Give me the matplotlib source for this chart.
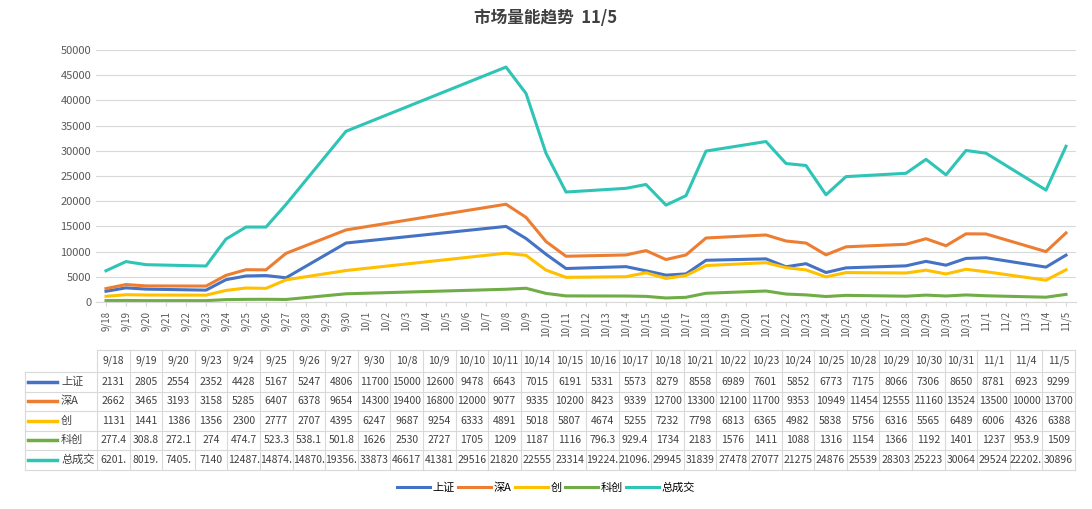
import matplotlib
matplotlib.use("Agg")
import matplotlib.pyplot as plt
import datetime as dt

plt.rcParams['font.family'] = ['Noto Sans CJK SC', 'DejaVu Sans']

dates = ["9/18","9/19","9/20","9/23","9/24","9/25","9/26","9/27","9/30","10/8","10/9","10/10","10/11","10/14",
         "10/15","10/16","10/17","10/18","10/21","10/22","10/23","10/24","10/25","10/28","10/29","10/30","10/31","11/1","11/4","11/5"]
sh = [2131,2805,2554,2352,4428,5167,5247,4806,11700,15000,12600,9478,6643,7015,6191,5331,5573,8279,8558,6989,7601,5852,6773,7175,8066,7306,8650,8781,6923,9299]
sza = [2662,3465,3193,3158,5285,6407,6378,9654,14300,19400,16800,12000,9077,9335,10200,8423,9339,12700,13300,12100,11700,9353,10949,11454,12555,11160,13524,13500,10000,13700]
cy = [1131,1441,1386,1356,2300,2777,2707,4395,6247,9687,9254,6333,4891,5018,5807,4674,5255,7232,7798,6813,6365,4982,5838,5756,6316,5565,6489,6006,4326,6388]
kc = [277.4,308.8,272.1,274,474.7,523.3,538.1,501.8,1626,2530,2727,1705,1209,1187,1116,796.3,929.4,1734,2183,1576,1411,1088,1316,1154,1366,1192,1401,1237,953.9,1509]
total = [6201.5,8019.5,7405.5,7140,12487.5,14874.5,14870.5,19356.5,33873,46617,41381,29516,21820,22555,23314,19224.5,21096.5,29945,31839,27478,27077,21275,24876,25539,28303,25223,30064,29524,22202.5,30896]
table_str = {
 "总成交": ["6201.","8019.","7405.","7140","12487.","14874.","14870.","19356.","33873","46617","41381","29516","21820","22555",
          "23314","19224.","21096.","29945","31839","27478","27077","21275","24876","25539","28303","25223","30064","29524","22202.","30896"],
}
names = ["上证","深A","创","科创","总成交"]
colors = ["#4472C4","#ED7D31","#FFC000","#70AD47","#2EC4B6"]
series = [sh, sza, cy, kc, total]

start = dt.date(2024,9,18)
alldays = [start + dt.timedelta(d) for d in range(49)]
axis_labels = [f"{d.month}/{d.day}" for d in alldays]
def pos(s):
    m, d = map(int, s.split("/"))
    return (dt.date(2024,m,d) - start).days
xs = [pos(s) for s in dates]

W, H = 1092, 509
fig = plt.figure(figsize=(W/100, H/100), dpi=100)
ax = fig.add_axes([96/W, 1-302/H, 980/W, 252/H])
for s, c, n in zip(series, colors, names):
    ax.plot(xs, s, color=c, lw=2.2, label=n)
ax.set_xlim(-0.5, 48.5)
ax.set_ylim(0, 50000)
ax.set_yticks(range(0, 50001, 5000))
ax.tick_params(axis='y', labelsize=8, colors='#595959', length=0)
ax.set_xticks(range(49))
ax.set_xticklabels(axis_labels, rotation=90, fontsize=7, color='#595959')
ax.tick_params(axis='x', length=3, color='#d9d9d9')
ax.grid(axis='y', color='#d9d9d9', lw=0.8)
ax.set_axisbelow(True)
for sp in ['top','right','left']:
    ax.spines[sp].set_visible(False)
ax.spines['bottom'].set_color('#d9d9d9')
fig.text(0.5, 1-18/H, "市场量能趋势  11/5", ha='center', va='center', fontsize=12, fontweight='bold', color='#404040')

# table
tx0, tx1 = 97, 1075
lx0 = 25
ty0 = 350
rh_head = 22
rh = 19.5
ncol = len(dates)
cw = (tx1 - tx0) / ncol
def fx(x): return x / W
def fy(y): return 1 - y / H
gc = '#d9d9d9'
ybot = ty0 + rh_head + 5*rh
# vertical lines
for i in range(ncol+1):
    x = tx0 + i*cw
    fig.add_artist(plt.Line2D([fx(x)]*2, [fy(ty0), fy(ybot)], color=gc, lw=0.8))
fig.add_artist(plt.Line2D([fx(lx0)]*2, [fy(ty0+rh_head), fy(ybot)], color=gc, lw=0.8))
fig.add_artist(plt.Line2D([fx(tx0), fx(tx1)], [fy(ty0)]*2, color=gc, lw=0.8))
for r in range(6):
    y = ty0 + rh_head + r*rh
    fig.add_artist(plt.Line2D([fx(lx0), fx(tx1)], [fy(y)]*2, color=gc, lw=0.8))
for i, d in enumerate(dates):
    fig.text(fx(tx0 + (i+0.5)*cw), fy(ty0 + rh_head/2), d, ha='center', va='center', fontsize=7.5, color='#404040')
def fmt(v):
    return str(int(v)) if float(v).is_integer() else f"{v:g}"
for r, (s, c, n) in enumerate(zip(series, colors, names)):
    yc = ty0 + rh_head + (r+0.5)*rh
    fig.add_artist(plt.Line2D([fx(lx0+3), fx(lx0+32)], [fy(yc)]*2, color=c, lw=2.5))
    fig.text(fx(lx0+36), fy(yc), n, ha='left', va='center', fontsize=8, color='#404040')
    strs = table_str.get(n, [fmt(v) for v in s])
    for i, t in enumerate(strs):
        fig.text(fx(tx0 + (i+0.5)*cw), fy(yc), t, ha='center', va='center', fontsize=7.5, color='#404040')

fig.legend(*ax.get_legend_handles_labels(), loc='center', bbox_to_anchor=(0.5, fy(488)), ncol=5,
           frameon=False, fontsize=8, handlelength=3, columnspacing=0.3, handletextpad=0.2)
fig.savefig("out.png", dpi=100)
